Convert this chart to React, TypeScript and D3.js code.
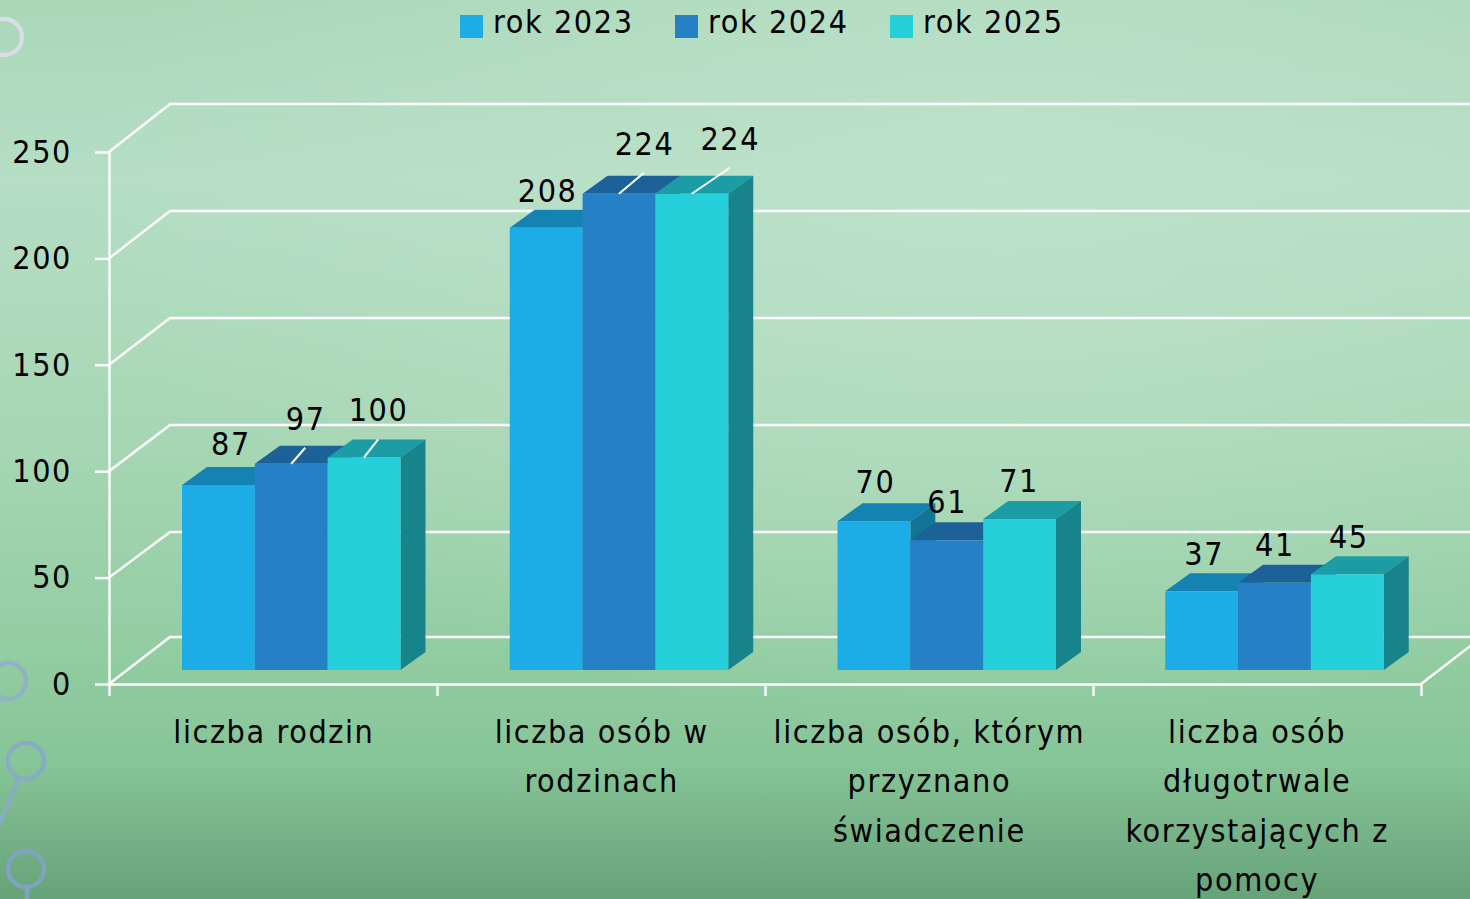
import * as d3 from "d3";
import { useEffect, useRef } from "react";

const categories = [
  ["liczba rodzin"],
  ["liczba osób w", "rodzinach"],
  ["liczba osób, którym", "przyznano", "świadczenie"],
  ["liczba osób", "długotrwale", "korzystających z", "pomocy"],
];
const seriesNames = ["rok 2023", "rok 2024", "rok 2025"];
const values2023 = [87, 208, 70, 37];
const values2024 = [97, 224, 61, 41];
const values2025 = [100, 224, 71, 45];
const yTicks = [0, 50, 100, 150, 200, 250];
const seriesColors = ["#1cace6", "#2680c6", "#26d0db"];
const topColors = ["#1583b2", "#1c6299", "#1c9da6"];
const sideColors = ["#137596", "#165a8a", "#17838b"];

// label nudges per bar: [dx from bar centre, gap above bar top]
const labelNudge2023 = [[12, 30], [1, 26], [1, 28], [2, 26]];
const labelNudge2024 = [[14, 34], [25, 39], [0, 27], [0, 27]];
const labelNudge2025 = [[14, 36], [38, 44], [-1, 27], [1, 26]];
const leaders2023 = [false, false, false, false];
const leaders2024 = [true, true, false, false];
const leaders2025 = [true, true, false, false];

const W = 1470;
const H = 899;
const FONT = "'DejaVu Sans Condensed', 'DejaVu Sans', sans-serif";
const FONT_SIZE = 32;
const SPACING = 1.6;

const App = () => {
  const svgRef = useRef<SVGSVGElement>(null);

  useEffect(() => {
    const svg = d3.select(svgRef.current);
    svg.selectAll("*").remove();

    const defs = svg.append("defs");
    const bg = defs.append("linearGradient").attr("id", "bg").attr("x1", 0).attr("x2", 0).attr("y1", 0).attr("y2", 1);
    [[0, "#aad7b8"], [0.2, "#b5dec5"], [0.5, "#a6d6b3"], [0.72, "#93cda2"], [0.85, "#86c597"], [0.93, "#75b287"], [1, "#67a378"]].forEach(([o, c]) =>
      bg.append("stop").attr("offset", o as number).attr("stop-color", c as string)
    );
    const glow = defs.append("radialGradient").attr("id", "glow").attr("cx", 0.68).attr("cy", 0.2).attr("r", 0.62);
    glow.append("stop").attr("offset", 0).attr("stop-color", "#bfe3cc").attr("stop-opacity", 0.75);
    glow.append("stop").attr("offset", 1).attr("stop-color", "#bfe3cc").attr("stop-opacity", 0);

    svg.append("rect").attr("width", W).attr("height", H).attr("fill", "url(#bg)");
    svg.append("rect").attr("width", W).attr("height", H).attr("fill", "url(#glow)");

    // decoration on the left edge
    const deco = svg.append("g").attr("fill", "none").attr("stroke-width", 4.5);
    deco.append("circle").attr("cx", 4).attr("cy", 37).attr("r", 18).attr("stroke", "#d9dde6");
    deco.append("circle").attr("cx", 8).attr("cy", 681).attr("r", 18).attr("stroke", "#8fb3c4");
    deco.append("line").attr("x1", 0).attr("y1", 698).attr("x2", -4).attr("y2", 706).attr("stroke", "#8fb3c4");
    deco.append("circle").attr("cx", 26).attr("cy", 761).attr("r", 18).attr("stroke", "#88acc4");
    deco.append("line").attr("x1", 19).attr("y1", 778).attr("x2", -4).attr("y2", 832).attr("stroke", "#88acc4");
    deco.append("circle").attr("cx", 26).attr("cy", 869).attr("r", 18).attr("stroke", "#7fa4bd");
    deco.append("line").attr("x1", 27).attr("y1", 887).attr("x2", 27).attr("y2", 899).attr("stroke", "#7fa4bd");

    // scales
    const x = d3.scaleLinear().domain([0, 4]).range([109, 1421]);
    const yFront = d3.scaleLinear().domain([0, 250]).range([684, 152]);
    const yBack = d3.scaleLinear().domain([0, 50, 250]).range([637, 532, 104]);
    const yBar = d3.scaleLinear().domain([0, 250]).range([670, 138.5]);
    const wallDx = 61;
    const depthX = 25;
    const depthY = 18;

    // walls
    const grid = svg.append("g").attr("stroke", "#fff").attr("stroke-width", 2.4).attr("fill", "none");
    yTicks.forEach((t) => {
      grid.append("path").attr("d", `M${x(0)},${yFront(t)}L${x(0) + wallDx},${yBack(t)}L${W + 10},${yBack(t)}`);
    });
    grid.append("line").attr("x1", x(4)).attr("y1", yFront(0)).attr("x2", x(4) + wallDx).attr("y2", yBack(0));

    // axes
    const yAxis = d3.axisLeft(yFront).tickValues(yTicks).tickSizeInner(14).tickSizeOuter(0).tickPadding(23);
    const yG = svg.append("g").attr("transform", `translate(${x(0)},0)`).call(yAxis);
    const xAxis = d3.axisBottom(x).tickValues([0, 1, 2, 3, 4]).tickSizeInner(12).tickSizeOuter(0).tickFormat(() => "");
    const xG = svg.append("g").attr("transform", `translate(0,${yFront(0)})`).call(xAxis);
    [yG, xG].forEach((g) => {
      g.selectAll("path,line").attr("stroke", "#fff").attr("stroke-width", 2.4);
    });
    yG.selectAll("text").attr("fill", "#000").style("font-family", FONT).style("font-size", `${FONT_SIZE}px`).style("letter-spacing", `${SPACING}px`);

    // bars
    const series = [values2023, values2024, values2025];
    const nudges = [labelNudge2023, labelNudge2024, labelNudge2025];
    const leaders = [leaders2023, leaders2024, leaders2025];
    const band = d3.scaleBand<number>().domain([0, 1, 2, 3]).range([x(0), x(4) - 1]);
    const inner = d3.scaleBand<number>().domain([0, 1, 2]).range([73, 291.5]);

    const barsG = svg.append("g");
    const labelsG = svg.append("g");
    categories.forEach((_, ci) => {
      series.forEach((vals, si) => {
        const x0 = (band(ci) as number) + (inner(si) as number);
        const w = inner.bandwidth();
        const yT = yBar(vals[ci]);
        const yB = yBar(0);
        barsG.append("path").attr("fill", topColors[si])
          .attr("d", `M${x0},${yT}L${x0 + depthX},${yT - depthY}L${x0 + w + depthX},${yT - depthY}L${x0 + w},${yT}Z`);
        barsG.append("path").attr("fill", sideColors[si])
          .attr("d", `M${x0 + w},${yT}L${x0 + w + depthX},${yT - depthY}L${x0 + w + depthX},${yB - depthY}L${x0 + w},${yB}Z`);
        barsG.append("rect").attr("x", x0).attr("y", yT).attr("width", w).attr("height", yB - yT).attr("fill", seriesColors[si]);

        const [dx, gap] = nudges[si][ci];
        const cx = x0 + w / 2;
        labelsG.append("text").attr("x", cx + dx + 0.5).attr("y", yT - gap).attr("text-anchor", "middle")
          .attr("font-family", FONT).attr("font-size", FONT_SIZE).attr("letter-spacing", SPACING).attr("fill", "#000").text(vals[ci]);
        if (leaders[si][ci]) {
          labelsG.append("line").attr("x1", cx).attr("y1", yT).attr("x2", cx + dx).attr("y2", yT - (gap - 18))
            .attr("stroke", "#fff").attr("stroke-width", 2);
        }
      });
    });

    // category labels
    const catG = svg.append("g").attr("font-family", FONT).attr("font-size", FONT_SIZE).attr("letter-spacing", SPACING).attr("fill", "#000").attr("text-anchor", "middle");
    categories.forEach((lines, ci) => {
      const cx = (band(ci) as number) + band.bandwidth() / 2 + 1;
      lines.forEach((line, li) => {
        catG.append("text").attr("x", cx).attr("y", 743 + li * 49.4).text(line);
      });
    });

    // legend
    const legend = d3.scalePoint<string>().domain(seriesNames).range([460, 890]);
    const legG = svg.append("g");
    seriesNames.forEach((name, si) => {
      const lx = legend(name) as number;
      legG.append("rect").attr("x", lx).attr("y", 15).attr("width", 23).attr("height", 23).attr("fill", seriesColors[si]);
      legG.append("text").attr("x", lx + 33).attr("y", 33).attr("font-family", FONT).attr("font-size", FONT_SIZE).attr("letter-spacing", SPACING).attr("fill", "#000").text(name);
    });
  }, []);

  return <svg ref={svgRef} width={W} height={H} style={{ position: "fixed", left: 0, top: 0 }} />;
};

export default App;
